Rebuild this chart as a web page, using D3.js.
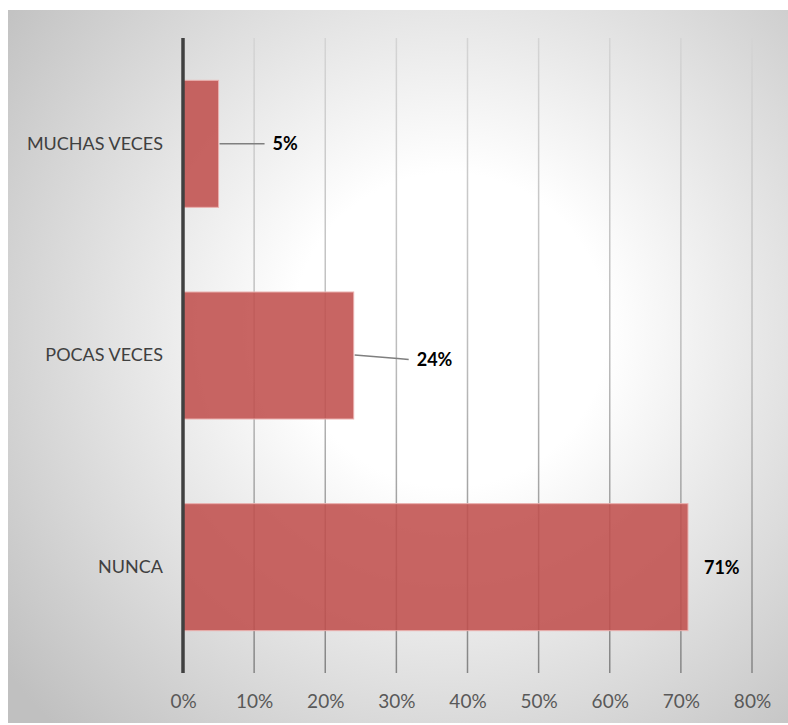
<!DOCTYPE html>
<html>
<head>
<meta charset="utf-8">
<script src="https://cdn.jsdelivr.net/npm/d3@7"></script>
<style>
  body { margin: 0; background: #fff; }
  text { font-family: Lato, "Open Sans", sans-serif; }
</style>
</head>
<body>
<svg id="chart" width="788" height="725"></svg>
<script>
var categories = ["MUCHAS VECES", "POCAS VECES", "NUNCA"];
var values = [0.05, 0.24, 0.71];
var valueLabels = ["5%", "24%", "71%"];
var tickValues = [0, 0.1, 0.2, 0.3, 0.4, 0.5, 0.6, 0.7, 0.8];
var tickLabels = ["0%", "10%", "20%", "30%", "40%", "50%", "60%", "70%", "80%"];

// label placement (moved by hand in the original)
var labelDx = [54, 63, 16];
var labelDy = [0, 4, 0];

var svg = d3.select("#chart");
var defs = svg.append("defs");

var bg = defs.append("radialGradient").attr("id", "bg")
  .attr("gradientUnits", "userSpaceOnUse")
  .attr("cx", 450).attr("cy", 330).attr("r", 560);
bg.append("stop").attr("offset", "0").attr("stop-color", "#ffffff");
bg.append("stop").attr("offset", "0.28").attr("stop-color", "#ffffff");
bg.append("stop").attr("offset", "1").attr("stop-color", "#c0c0c0");

var gl = defs.append("linearGradient").attr("id", "grid")
  .attr("gradientUnits", "userSpaceOnUse")
  .attr("x1", 0).attr("y1", 38).attr("x2", 0).attr("y2", 673);
gl.append("stop").attr("offset", "0").attr("stop-color", "#d4d4d4");
gl.append("stop").attr("offset", "0.5").attr("stop-color", "#bcbcbc");
gl.append("stop").attr("offset", "1").attr("stop-color", "#858585");

svg.append("rect").attr("x", 8).attr("y", 10).attr("width", 780).attr("height", 713)
  .attr("fill", "url(#bg)");

var x = d3.scaleLinear().domain([0, 0.8]).range([183, 752]);
var y = d3.scaleBand().domain(categories).range([38, 673]).paddingInner(0.4).paddingOuter(0.2);

// gridlines
svg.append("g").selectAll("line").data(tickValues.slice(1)).enter().append("line")
  .attr("x1", function (d) { return x(d); })
  .attr("x2", function (d) { return x(d); })
  .attr("y1", 38).attr("y2", 673)
  .attr("stroke", "url(#grid)").attr("stroke-width", 1.5);

// bars
svg.append("g").selectAll("rect").data(values).enter().append("rect")
  .attr("x", x(0))
  .attr("y", function (d, i) { return y(categories[i]); })
  .attr("width", function (d) { return x(d) - x(0); })
  .attr("height", y.bandwidth())
  .attr("fill", "#c0504d").attr("fill-opacity", 0.88)
  .attr("stroke", "#eab0ae").attr("stroke-width", 1);

// vertical axis line
svg.append("line").attr("x1", x(0)).attr("x2", x(0)).attr("y1", 38).attr("y2", 673)
  .attr("stroke", "#404040").attr("stroke-width", 3.5);

// x tick labels
var xAxis = d3.axisBottom(x).tickValues(tickValues)
  .tickFormat(function (d, i) { return tickLabels[i]; })
  .tickSize(0).tickPadding(0);
var xg = svg.append("g").attr("transform", "translate(0,708)").call(xAxis);
xg.select(".domain").remove();
xg.selectAll("text").attr("dy", 0).attr("font-size", 19).attr("fill", "#595959")
  .style("font-family", "Lato, sans-serif");

// category labels
var yAxis = d3.axisLeft(y).tickSize(0).tickPadding(0);
var yg = svg.append("g").attr("transform", "translate(163,0)").call(yAxis);
yg.select(".domain").remove();
yg.selectAll("text").attr("font-size", 18).attr("fill", "#404040")
  .style("font-family", "Lato, sans-serif");

// leader lines
var cy = function (i) { return y(categories[i]) + y.bandwidth() / 2; };
svg.append("line").attr("x1", x(values[0]) + 1).attr("y1", cy(0))
  .attr("x2", x(values[0]) + labelDx[0] - 8).attr("y2", cy(0))
  .attr("stroke", "#7f7f7f").attr("stroke-width", 1.5);
svg.append("polyline")
  .attr("points", [[x(values[1]) + 1, cy(1) - 0.5], [x(values[1]) + 44, cy(1) + 3], [x(values[1]) + labelDx[1] - 8, cy(1) + 4]].join(" "))
  .attr("fill", "none").attr("stroke", "#7f7f7f").attr("stroke-width", 1.5);

// data labels
svg.append("g").selectAll("text").data(values).enter().append("text")
  .attr("x", function (d, i) { return x(d) + labelDx[i]; })
  .attr("y", function (d, i) { return cy(i) + labelDy[i]; })
  .attr("dy", "0.36em")
  .attr("font-size", 18).attr("font-weight", "bold").attr("fill", "#000")
  .text(function (d, i) { return valueLabels[i]; });
</script>
</body>
</html>
